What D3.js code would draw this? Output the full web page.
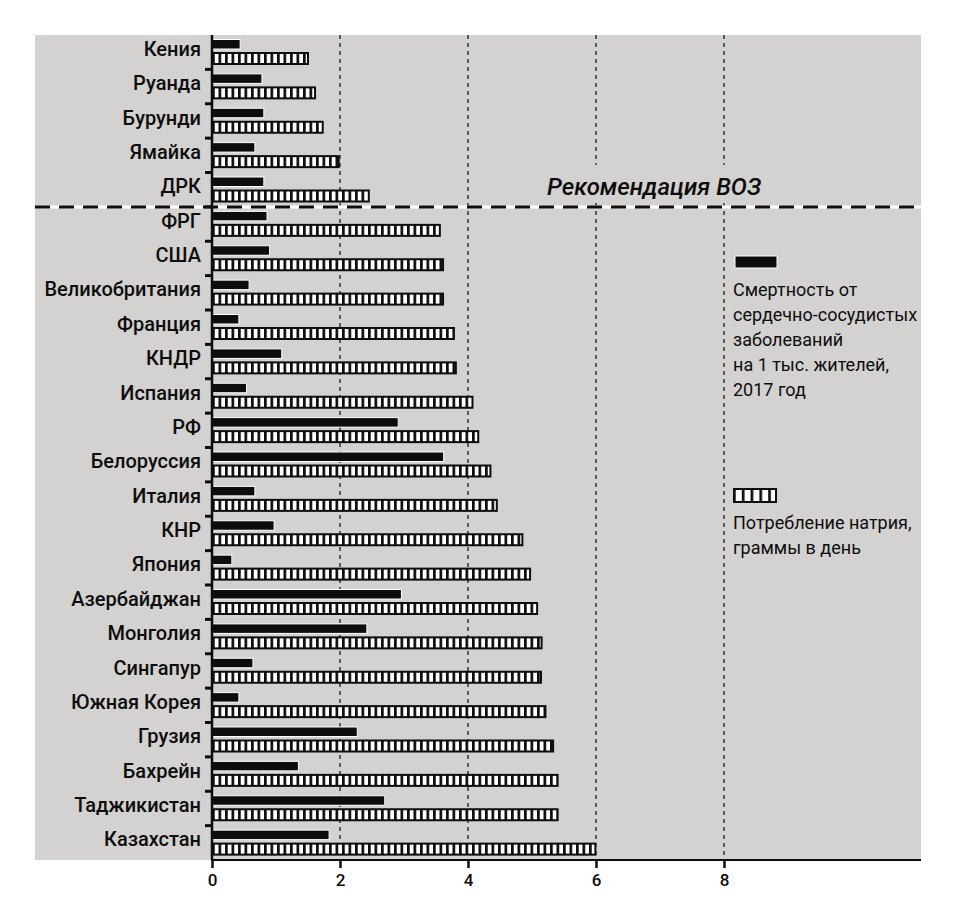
<!DOCTYPE html>
<html>
<head>
<meta charset="utf-8">
<script src="https://cdn.jsdelivr.net/npm/d3@7"></script>
<style>
  html, body { margin: 0; padding: 0; background: #ffffff; }
  svg { display: block; }
  text { font-family: Roboto, "Noto Sans", "DejaVu Sans", sans-serif; }
</style>
</head>
<body>
<svg id="chart" width="961" height="902"></svg>
<script>
const countries = ["Кения","Руанда","Бурунди","Ямайка","ДРК","ФРГ","США","Великобритания","Франция","КНДР","Испания","РФ","Белоруссия","Италия","КНР","Япония","Азербайджан","Монголия","Сингапур","Южная Корея","Грузия","Бахрейн","Таджикистан","Казахстан"];
const mortality = [0.44,0.78,0.81,0.67,0.81,0.86,0.90,0.58,0.42,1.09,0.54,2.91,3.62,0.67,0.97,0.31,2.96,2.42,0.64,0.42,2.27,1.35,2.70,1.83];
const sodium = [1.50,1.61,1.73,1.98,2.45,3.56,3.61,3.61,3.78,3.81,4.07,4.16,4.35,4.45,4.85,4.97,5.08,5.15,5.14,5.21,5.33,5.40,5.40,5.99];
const xTicks = [0,2,4,6,8];
const gridValues = [2,4,6,8];
const whoLabel = "Рекомендация ВОЗ";
const whoAfterIndex = 5; // line drawn after the first five countries
const legendMortality = ["Смертность от","сердечно-сосудистых","заболеваний","на 1 тыс. жителей,","2017 год"];
const legendSodium = ["Потребление натрия,","граммы в день"];

const svg = d3.select("#chart");
const bg = "#d3d2d0";
const ink = "#0d0d0d";

const x = d3.scaleLinear().domain([0, 8]).range([212, 724]);
const y = d3.scaleBand().domain(countries).range([35, 860]).padding(0);

// pattern for hatched bars
const defs = svg.append("defs");
const pat = defs.append("pattern").attr("id","hatch").attr("patternUnits","userSpaceOnUse")
  .attr("x", x(0)).attr("y", 0).attr("width", 6.5).attr("height", 40);
pat.append("rect").attr("width", 6.5).attr("height", 40).attr("fill", "#fff");
pat.append("rect").attr("width", 2.7).attr("height", 40).attr("fill", ink);

const patL = defs.append("pattern").attr("id","hatchL").attr("patternUnits","userSpaceOnUse")
  .attr("x", 733).attr("y", 0).attr("width", 8.8).attr("height", 40);
patL.append("rect").attr("width", 8.8).attr("height", 40).attr("fill", "#fff");
patL.append("rect").attr("width", 2.7).attr("height", 40).attr("fill", ink);

// background
svg.append("rect").attr("x", 35).attr("y", 35).attr("width", 886).attr("height", 825).attr("fill", bg);

// gridlines
svg.append("g").selectAll("line").data(gridValues).join("line")
  .attr("x1", d => x(d)).attr("x2", d => x(d))
  .attr("y1", 35).attr("y2", 860)
  .attr("stroke", ink).attr("stroke-width", 1.2).attr("stroke-dasharray", "4,4");

// WHO label with background
const whoY = y(countries[whoAfterIndex]);
svg.append("rect").attr("x", 542).attr("y", whoY - 42).attr("width", 226).attr("height", 38).attr("fill", bg);
svg.append("text").attr("x", 654).attr("y", whoY - 12)
  .attr("text-anchor", "middle").attr("font-size", 24).attr("font-style", "italic").attr("font-weight", 500)
  .attr("fill", ink).text(whoLabel);

// bars
const rows = countries.map((c, i) => ({ c, m: mortality[i], s: sodium[i] }));
const g = svg.append("g");
g.selectAll("rect.m").data(rows).join("rect").attr("class","m")
  .attr("x", x(0)).attr("y", d => y(d.c) + 4.5)
  .attr("width", d => x(d.m) - x(0)).attr("height", 9.5)
  .attr("fill", ink).attr("stroke", "#fff").attr("stroke-width", 1);
g.selectAll("rect.s").data(rows).join("rect").attr("class","s")
  .attr("x", x(0)).attr("y", d => y(d.c) + 18)
  .attr("width", d => x(d.s) - x(0)).attr("height", 11)
  .attr("fill", "url(#hatch)").attr("stroke", ink).attr("stroke-width", 2);

// WHO dashed line
svg.append("line").attr("x1", 35).attr("x2", 921).attr("y1", whoY).attr("y2", whoY)
  .attr("stroke", "#fff").attr("stroke-width", 3);
svg.append("line").attr("x1", 35).attr("x2", 921).attr("y1", whoY).attr("y2", whoY)
  .attr("stroke", ink).attr("stroke-width", 3).attr("stroke-dasharray", "15,9");

// left axis line and band-boundary ticks
svg.append("line").attr("x1", x(0)).attr("x2", x(0)).attr("y1", 35).attr("y2", 860)
  .attr("stroke", ink).attr("stroke-width", 2.5);
svg.append("g").selectAll("line").data(countries.slice(1)).join("line")
  .attr("x1", x(0) - 7).attr("x2", x(0))
  .attr("y1", d => y(d)).attr("y2", d => y(d))
  .attr("stroke", ink).attr("stroke-width", 3);

// category labels
const yAxis = svg.append("g").attr("transform", `translate(${x(0)},0)`)
  .call(d3.axisLeft(y).tickSize(0).tickPadding(11));
yAxis.select(".domain").remove();
yAxis.selectAll("text").attr("font-size", 20).attr("font-weight", 500).attr("fill", ink)
  .attr("font-family", "Roboto, sans-serif").attr("dy", "0.18em");

// bottom axis
svg.append("line").attr("x1", x(0) - 1).attr("x2", 921).attr("y1", 860).attr("y2", 860)
  .attr("stroke", ink).attr("stroke-width", 2);
const xAxis = svg.append("g").attr("transform", "translate(0,860)")
  .call(d3.axisBottom(x).tickValues(xTicks).tickSize(8).tickPadding(6).tickFormat(d3.format("d")));
xAxis.select(".domain").remove();
xAxis.selectAll("line").attr("stroke", ink).attr("stroke-width", 2.5);
xAxis.selectAll("text").attr("font-size", 17).attr("font-weight", 500).attr("fill", ink)
  .attr("font-family", "Roboto, sans-serif");

// legend
svg.append("rect").attr("x", 735).attr("y", 256).attr("width", 42).attr("height", 12)
  .attr("fill", ink).attr("stroke", "#fff").attr("stroke-width", 1);
svg.append("g").selectAll("text").data(legendMortality).join("text")
  .attr("x", 733).attr("y", (d, i) => 296 + i * 25)
  .attr("font-size", 18).attr("fill", ink).text(d => d);
svg.append("rect").attr("x", 734).attr("y", 489).attr("width", 42).attr("height", 13)
  .attr("fill", "url(#hatchL)").attr("stroke", ink).attr("stroke-width", 2);
svg.append("g").selectAll("text").data(legendSodium).join("text")
  .attr("x", 733).attr("y", (d, i) => 529 + i * 25)
  .attr("font-size", 18).attr("fill", ink).text(d => d);
</script>
</body>
</html>
